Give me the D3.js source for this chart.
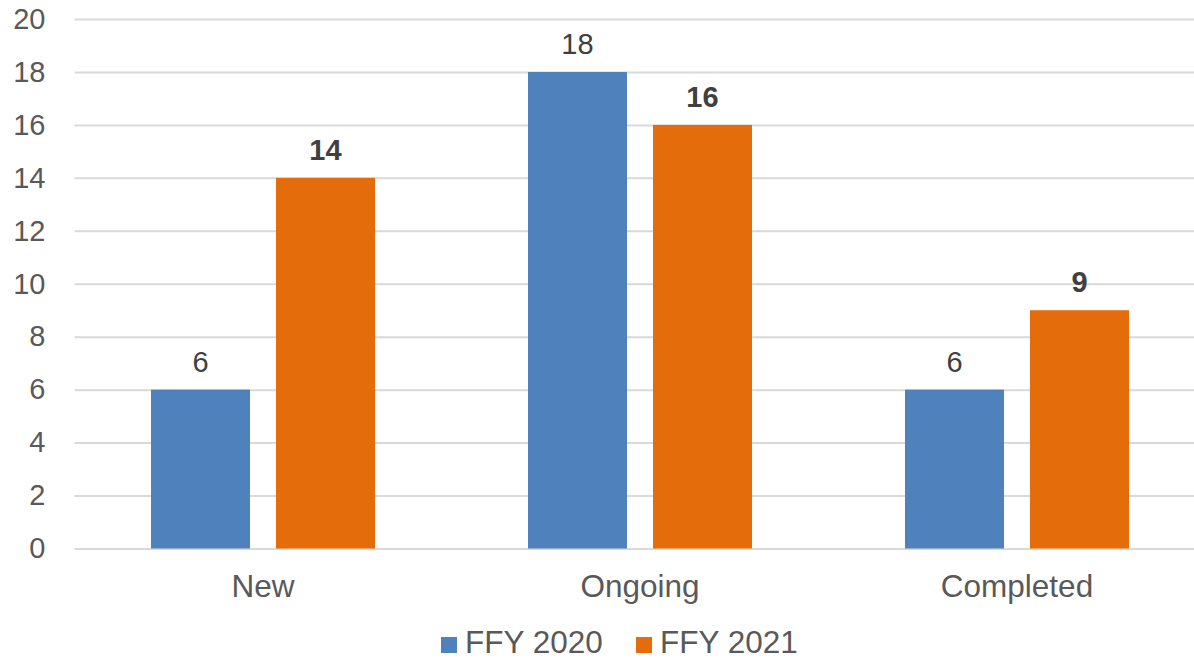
<!DOCTYPE html>
<html>
<head>
<title>FFY Chart</title>
<script src="https://d3js.org/d3.v7.min.js"></script>
<style>
body, html {
  margin: 0;
  padding: 0;
  background: #fff;
}
svg {
  display: block;
  font-family: "Liberation Sans", Arial, sans-serif;
}
</style>
</head>
<body>
<svg id="chart" width="1194" height="660"></svg>
<script>

const categories = ["New", "Ongoing", "Completed"];
const seriesNames = ["FFY 2020", "FFY 2021"];
const ffy2020 = [6, 18, 6];
const ffy2021 = [14, 16, 9];
const yTicks = [0, 2, 4, 6, 8, 10, 12, 14, 16, 18, 20];
const colors = ["#4f81bd", "#e46c0a"];

function drawChart() {
  const svg = d3.select("#chart");
  const left = 74.5, right = 1205.5, top = 19, bottom = 548.5;

  const x = d3.scaleBand()
    .domain(categories)
    .range([left, right]);

  // two bars of ~99px with a 26px gap, centred in each band
  const x1 = d3.scaleBand()
    .domain(seriesNames)
    .range([x.bandwidth() / 2 - 112, x.bandwidth() / 2 + 112])
    .paddingInner(0.208);

  const y = d3.scaleLinear()
    .domain([0, 20])
    .range([bottom, top]);

  // grid lines + y labels
  const yAxis = d3.axisLeft(y)
    .tickValues(yTicks)
    .tickSize(-(1194 - left))
    .tickPadding(29);

  const gy = svg.append("g")
    .attr("transform", "translate(" + left + ",0)")
    .call(yAxis);
  gy.select(".domain").remove();
  gy.selectAll(".tick line")
    .attr("stroke", "#d9d9d9")
    .attr("stroke-width", 2);
  gy.selectAll(".tick text")
    .attr("fill", "#595959")
    .style("font-size", "29px")
    .attr("font-family", "Liberation Sans, Arial, sans-serif");

  const data = categories.map((c, i) => ({
    cat: c,
    vals: [ffy2020[i], ffy2021[i]]
  }));

  const groups = svg.append("g").selectAll("g")
    .data(data)
    .join("g")
    .attr("transform", d => "translate(" + x(d.cat) + ",0)");

  groups.selectAll("rect")
    .data(d => d.vals.map((v, j) => ({ name: seriesNames[j], v: v, j: j })))
    .join("rect")
    .attr("x", d => x1(d.name))
    .attr("width", x1.bandwidth())
    .attr("y", d => y(d.v))
    .attr("height", d => y(0) - y(d.v))
    .attr("fill", d => colors[d.j]);

  groups.selectAll("text.val")
    .data(d => d.vals.map((v, j) => ({ name: seriesNames[j], v: v, j: j })))
    .join("text")
    .attr("class", "val")
    .attr("x", d => x1(d.name) + x1.bandwidth() / 2)
    .attr("y", d => y(d.v) - 18)
    .attr("text-anchor", "middle")
    .attr("fill", "#404040")
    .style("font-size", "29px")
    .style("font-weight", d => d.j === 1 ? "bold" : "normal")
    .text(d => d.v);

  // category labels
  svg.append("g").selectAll("text")
    .data(categories)
    .join("text")
    .attr("x", d => x(d) + x.bandwidth() / 2)
    .attr("y", 597)
    .attr("text-anchor", "middle")
    .attr("fill", "#595959")
    .style("font-size", "31.5px")
    .text(d => d);

  // legend
  const legendX = [441, 636];
  const legend = svg.append("g").selectAll("g")
    .data(seriesNames)
    .join("g")
    .attr("transform", (d, i) => "translate(" + legendX[i] + ",0)");
  legend.append("rect")
    .attr("x", 0)
    .attr("y", 637)
    .attr("width", 16)
    .attr("height", 16)
    .attr("fill", (d, i) => colors[i]);
  legend.append("text")
    .attr("x", 24)
    .attr("y", 653)
    .attr("fill", "#595959")
    .style("font-size", "31.5px")
    .text(d => d);
}

drawChart();
</script>
</body>
</html>
